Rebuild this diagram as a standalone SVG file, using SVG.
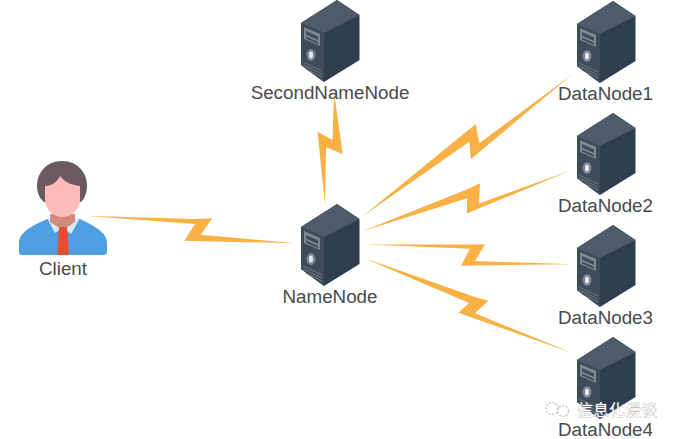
<svg xmlns="http://www.w3.org/2000/svg" width="678" height="439" viewBox="0 0 678 439">
<style>
.lbl{font-family:"Liberation Sans",Arial,sans-serif;font-size:18.8px;fill:#4a4a4a;text-anchor:middle}
.bolt{fill:#f9b044}
.wm{font-family:"Noto Sans CJK SC",sans-serif;font-size:16px;fill:#fff;stroke:#8a8f96;stroke-width:.5px;paint-order:stroke}
</style>
<defs>
<symbol id="server" overflow="visible" viewBox="0 0 678 439" width="678" height="439">
<path d="M0 0L22.5 15V60L-13 82-36 65V23Z" fill="#2f3e4f"/>
<path d="M-36 23L-13 33V82L-36 65Z" fill="#3e4b59"/>
<path d="M0 0L22.5 15-13 33-36 23Z" fill="#4f5b68"/>
<path d="M-33 27L-17 34V46L-33 39Z" fill="#7b8792"/>
<path d="M-31 31L-19 36.500V40L-31 34.500ZM-31 36.500L-19 42V44L-31 38.500Z" fill="#3e4b59"/>
<ellipse cx="-26" cy="55" rx="4.500" ry="6" fill="#7b8792"/>
<ellipse cx="-26" cy="55" rx="2" ry="3.500" fill="#e6e9ec"/>
<path d="M-34 62L-15 71M-34 65L-15 74M-31 69L-15 77" stroke="#66727e" stroke-width="1.200" fill="none"/>
</symbol>
</defs>
<rect width="678" height="439" fill="#fff"/>
<g id="connectors">
<path class="bolt" d="M334 92L332.500 140 317.500 131.700 325 205 326 147.300 342.700 154Z"/>
<path class="bolt" d="M85 215.700L193.500 219 212.300 218.300 200.700 234.700 295 243.300 184.300 240.700 195 224Z"/>
<path class="bolt" d="M363 216L469.300 129.300 475.700 124.300 479.300 143.300 572.700 74 470.700 159.300 469.300 141.700Z"/>
<path class="bolt" d="M363 231L467.300 189.300 480 183.300 479 203.500 571.700 170 466.700 213.500 467.300 198.300Z"/>
<path class="bolt" d="M365 244.500L470 244.500 485 244.300 475 261 572.700 264.300 461 265.700 470 248.800Z"/>
<path class="bolt" d="M364 258L475 297 488.300 300.700 475 313.300 572.700 353.300 458.300 312.700 469 303Z"/>
</g>
<g id="client">
<path d="M19 254V243C19 234 27 228 47 219H80C99 228 107 234 107 243V252Q107 255 103 255H22Q19 255 19 252Z" fill="#4f9fe3"/>
<path d="M47 218L80 218 71 234 63 228 55 233Z" fill="#d9e8f3"/>
<path d="M50 214H75V222L63 230 50 222Z" fill="#cf8b7c"/>
<path d="M59 227H67L68.500 247V255H57.500V247Z" fill="#ea4c30"/>
<path d="M62 161C46 161 37 173 37 186 37 193 40 199 44 202H81C85 198 87 192 87 186 87 173 78 161 62 161Z" fill="#6d5a60"/>
<path d="M45 186C52 186 58 181 60 176 64 182 72 185 80 186V199C80 210 71 217 62.500 217 54 217 45 210 45 199Z" fill="#fdbcb8"/>
<text class="lbl" x="63" y="274.500">Client</text>
</g>
<g id="namenode"><use href="#server" x="337" y="204"/><text class="lbl" x="330" y="303">NameNode</text></g>
<g id="secondnamenode"><use href="#server" x="337" y="0"/><text class="lbl" x="330" y="99">SecondNameNode</text></g>
<g id="datanode1"><use href="#server" x="613" y="1"/><text class="lbl" x="605.500" y="100">DataNode1</text></g>
<g id="datanode2"><use href="#server" x="613" y="113"/><text class="lbl" x="605.500" y="212">DataNode2</text></g>
<g id="datanode3"><use href="#server" x="613" y="225"/><text class="lbl" x="605.500" y="324">DataNode3</text></g>
<g id="datanode4"><use href="#server" x="613" y="337"/><text class="lbl" x="605.500" y="436">DataNode4</text></g>
<g id="watermark">
<circle cx="552" cy="408.500" r="6" fill="none" stroke="#c5c9cd" stroke-width="1.500" stroke-dasharray="2 1.500"/>
<circle cx="563" cy="411" r="5.500" fill="none" stroke="#c5c9cd" stroke-width="1.500" stroke-dasharray="2 1.500"/>
<text class="wm" x="577" y="415.500">信息化漫谈</text>
</g>
</svg>
